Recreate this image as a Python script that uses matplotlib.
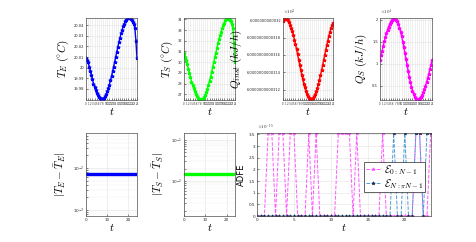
import matplotlib
matplotlib.use("Agg")
import matplotlib.pyplot as plt
from matplotlib.ticker import FixedLocator, FixedFormatter, LogLocator, NullFormatter

plt.rcParams['mathtext.fontset'] = 'cm'
plt.rcParams['font.family'] = ['DejaVu Sans']

# half-hour samples for the top row
t_top = [i * 0.5 for i in range(49)]

T_E = [20.0090, 20.0070, 20.0050, 20.0010, 19.9970, 19.9930, 19.9890, 19.9850,
       19.9820, 19.9790, 19.9760, 19.9740, 19.9720, 19.9710, 19.9700, 19.9700,
       19.9704, 19.9714, 19.9729, 19.9750, 19.9776, 19.9806, 19.9841, 19.9879,
       19.9920, 19.9964, 20.0010, 20.0057, 20.0104, 20.0151, 20.0197, 20.0241,
       20.0283, 20.0322, 20.0357, 20.0389, 20.0415, 20.0437, 20.0453, 20.0464,
       20.0470, 20.0469, 20.0462, 20.0450, 20.0433, 20.0412, 20.0375, 20.0250,
       20.0090]

T_S = [30.90, 30.50, 30.20, 29.80, 29.40, 29.00, 28.60, 28.20, 27.90, 27.60,
       27.30, 27.05, 26.85, 26.70, 26.60, 26.52, 26.50, 26.52, 26.60, 26.75,
       26.95, 27.20, 27.50, 27.85, 28.25, 28.65, 29.10, 29.55, 30.00, 30.45,
       30.90, 31.35, 31.75, 32.15, 32.50, 32.85, 33.15, 33.45, 33.70, 33.90,
       34.05, 34.10, 34.05, 33.95, 33.80, 33.55, 33.20, 31.80, 30.00]

# Q_inst shown as 6.00000000003xx e3 -> stored in units of 1e-10 kJ/h above 6000
Q_inst = [319.94, 320.10, 320.19, 320.19, 320.13, 319.98, 319.77, 319.48, 319.13,
          318.72, 318.26, 317.75, 317.21, 316.64, 316.06, 315.46, 314.87, 314.28,
          313.72, 313.19, 312.70, 312.25, 311.86, 311.53, 311.26, 311.07, 310.95,
          310.90, 310.93, 311.03, 311.21, 311.47, 311.79, 312.17, 312.61, 313.10,
          313.63, 314.20, 314.78, 315.39, 315.94, 316.53, 317.10, 317.65, 318.16,
          318.63, 319.05, 319.41, 319.71]
Q_inst_ticks = [312, 314, 316, 318, 320]
Q_inst_labels = ['6.0000000000312', '6.0000000000314', '6.0000000000316',
                 '6.0000000000318', '6.000000000032']

# Q_S in units of 1e4 kJ/h
Q_S = [1.080, 1.191, 1.301, 1.407, 1.509, 1.605, 1.694, 1.775, 1.846, 1.907,
       1.955, 1.993, 2.017, 2.029, 2.026, 2.004, 1.962, 1.901, 1.823, 1.729,
       1.622, 1.503, 1.375, 1.241, 1.105, 0.969, 0.835, 0.707, 0.588, 0.481,
       0.387, 0.309, 0.248, 0.206, 0.184, 0.181, 0.192, 0.215, 0.251, 0.297,
       0.354, 0.422, 0.498, 0.582, 0.673, 0.770, 0.871, 0.975, 1.080]

# bottom row
t_bot = [i * 0.5 for i in range(48)]
err_E = 7.05e-3
err_S = 1.47e-2

a = 3.5527e-15
adfe_0 = [0, 0, 0, a, a, 0, a, a, 0, a, a, 0, 0, 0, a, 0,
          a, 0, 0, 0, 0, 0, a, a, a, a, 0, a, 0, 0, 0, 0,
          0, 0, a, 0, 0, 0, 0, 0, 0, 0, 0, a, a, 0, 0, a]
adfe_N = [0, 0, 0, 0, 0, 0, 0, 0, 0, 0, 0, 0, 0, 0, 0, 0,
          0, 0, 0, 0, 0, 0, 0, 0, 0, 0, 0, 0, 0, 0, 0, 0,
          0, 0, 0, 0, 0, a, 0, 0, a, 0, 0, a, a, 0, a, a]

fig = plt.figure(figsize=(4.76, 2.42), dpi=100)

top_pos = [[0.1807, 0.5868, 0.1071, 0.3388],
           [0.3866, 0.5868, 0.1071, 0.3388],
           [0.5945, 0.5868, 0.1050, 0.3388],
           [0.7983, 0.5868, 0.1092, 0.3388]]
bot_pos = [[0.1807, 0.1074, 0.1071, 0.3430],
           [0.3866, 0.1074, 0.1071, 0.3430],
           [0.5400, 0.1074, 0.3655, 0.3430]]

edge = '#262626'
gridc = '#e3e3e3'


def style(ax, fs=3):
    ax.tick_params(direction='in', length=1.5, width=0.4, labelsize=fs,
                   pad=1.5, colors=edge, which='both')
    for s in ax.spines.values():
        s.set_linewidth(0.5)
        s.set_color('#4d4d4d')
    ax.grid(True, color=gridc, linewidth=0.4)
    ax.set_axisbelow(True)


top_data = [(T_E, (0, 0, 1), r'$T_E\ (^{\circ}C)$', (19.9695, 20.0468)),
            (T_S, (0, 1, 0), r'$T_S\ (^{\circ}C)$', (26.48, 34.12)),
            (Q_inst, (1, 0, 0), r'$Q_{inst}\ (kJ/h)$', (310.8, 320.25)),
            (Q_S, (1, 0, 1), r'$Q_S\ (kJ/h)$', (0.178, 2.04))]

for pos, (vals, col, lab, lim) in zip(top_pos, top_data):
    ax = fig.add_axes(pos)
    ax.plot(t_top, vals, color=col, linewidth=1.0, marker='*',
            markersize=2.6, markeredgewidth=0.6)
    ax.set_xlim(0, 24)
    ax.set_ylim(*lim)
    style(ax, 2.6)
    ax.set_xticks(list(range(0, 25)))
    ax.set_xticklabels([str(v) for v in range(0, 25)], fontsize=1.8)
    ax.set_xlabel(r'$t$', fontsize=8, labelpad=0)
    ax.set_ylabel(lab, fontsize=8, labelpad=2)

axes_top = fig.axes
axes_top[0].set_yticks([19.98, 19.99, 20.0, 20.01, 20.02, 20.03, 20.04])
axes_top[0].set_yticklabels(['19.98', '19.99', '20', '20.01', '20.02', '20.03', '20.04'])
axes_top[1].set_yticks([27, 28, 29, 30, 31, 32, 33, 34])
axes_top[2].yaxis.set_major_locator(FixedLocator(Q_inst_ticks))
axes_top[2].yaxis.set_major_formatter(FixedFormatter(Q_inst_labels))
axes_top[2].text(0, 1.01, r'$\times10^{3}$', transform=axes_top[2].transAxes,
                 fontsize=3.5, ha='left', va='bottom', color=edge)
axes_top[3].set_yticks([0.5, 1.0, 1.5, 2.0])
axes_top[3].set_yticklabels(['0.5', '1', '1.5', '2'])
axes_top[3].text(0, 1.01, r'$\times10^{4}$', transform=axes_top[3].transAxes,
                 fontsize=3.5, ha='left', va='bottom', color=edge)

# bottom log panels
ax5 = fig.add_axes(bot_pos[0])
ax5.plot(t_bot, [err_E] * len(t_bot), color=(0, 0, 1), linewidth=2.4)
ax5.set_yscale('log')
ax5.set_ylim(10 ** -3.152, 10 ** -1.16)
ax5.set_ylabel(r'$|T_E - \bar{T}_E|$', fontsize=8, labelpad=3)

ax6 = fig.add_axes(bot_pos[1])
ax6.plot(t_bot, [err_S] * len(t_bot), color=(0, 1, 0), linewidth=2.4)
ax6.set_yscale('log')
ax6.set_ylim(10 ** -2.83, 10 ** -0.84)
ax6.set_ylabel(r'$|T_S - \bar{T}_S|$', fontsize=8, labelpad=3)

for ax in (ax5, ax6):
    ax.set_xlim(0, 24)
    ax.set_xticks([0, 10, 20])
    style(ax, 3)
    ax.grid(True, which='minor', color='#f0f0f0', linewidth=0.3)
    ax.yaxis.set_minor_locator(LogLocator(base=10, subs=range(2, 10)))
    ax.yaxis.set_minor_formatter(NullFormatter())
    ax.set_xlabel(r'$t$', fontsize=8, labelpad=0)

# ADFE panel
ax7 = fig.add_axes(bot_pos[2])
ax7.plot(t_bot, adfe_0, color='#ff55ff', linestyle='--', linewidth=0.7,
         marker='*', markersize=2.5, markeredgewidth=0.5,
         label=r'$\mathcal{E}_{0:N-1}$')
ax7.plot(t_bot, adfe_N, color='#4c9bd6', linestyle='--', linewidth=0.7,
         marker='*', markersize=2.5, markeredgewidth=0.5,
         markerfacecolor='#1c2e4a', markeredgecolor='#1c2e4a',
         label=r'$\mathcal{E}_{N:\pi N-1}$')
ax7.set_xlim(0, 23.55)
ax7.set_ylim(0, 3.56e-15)
ax7.set_xticks([0, 5, 10, 15, 20])
ax7.set_yticks([i * 0.5e-15 for i in range(8)])
ax7.set_yticklabels(['0', '0.5', '1', '1.5', '2', '2.5', '3', '3.5'])
style(ax7, 3)
ax7.text(0, 1.01, r'$\times10^{-15}$', transform=ax7.transAxes,
         fontsize=3.5, ha='left', va='bottom', color=edge)
ax7.set_xlabel(r'$t$', fontsize=8, labelpad=0)
ax7.set_ylabel('ADFE', fontsize=6, labelpad=2)
leg = ax7.legend(loc='center right', bbox_to_anchor=(0.965, 0.47), fontsize=7.5,
                 handlelength=1.4, borderpad=0.15, labelspacing=0.05,
                 handletextpad=0.3, borderaxespad=0, fancybox=False,
                 framealpha=1)
leg.get_frame().set_linewidth(0.5)
leg.get_frame().set_edgecolor('#262626')

fig.savefig('out.png', dpi=100)
